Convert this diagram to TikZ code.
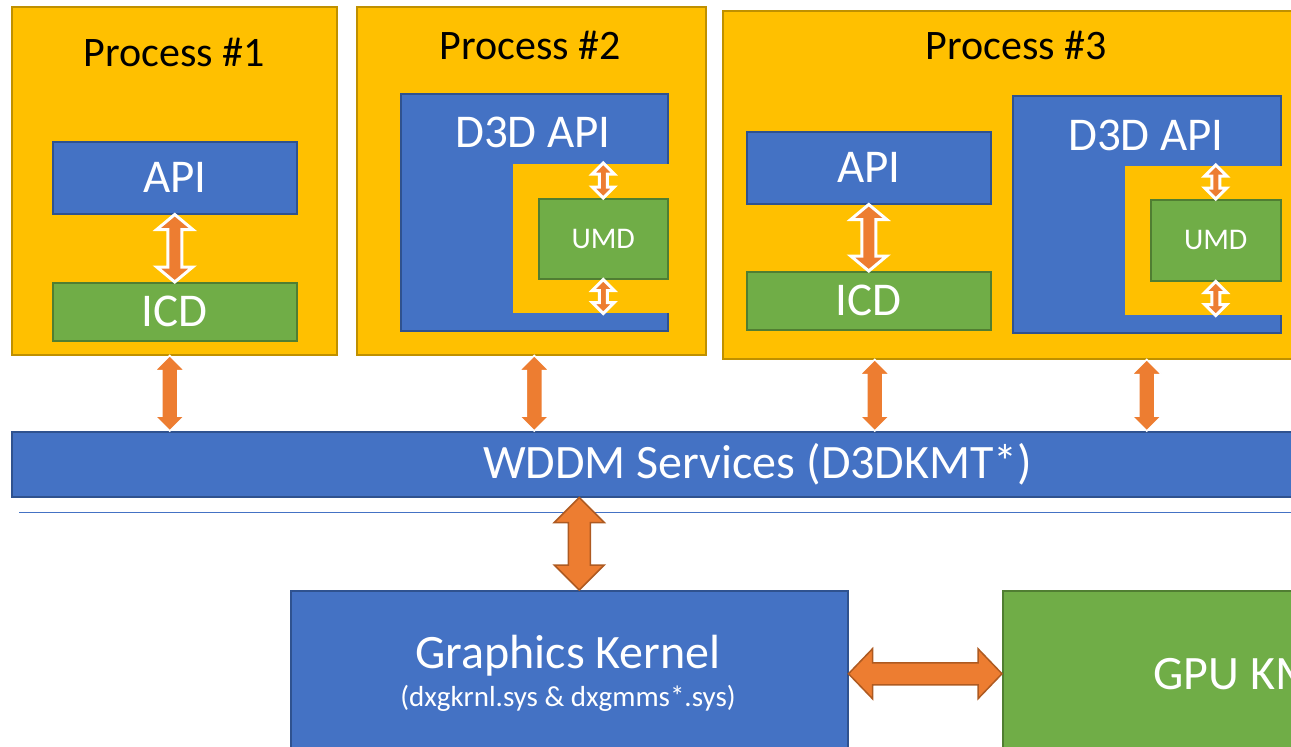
\documentclass[tikz,border=0pt]{standalone}
\usepackage{fontspec}
\setmainfont{Carlito}
\usetikzlibrary{calc}

\definecolor{procfill}{HTML}{FFC000}
\definecolor{procline}{HTML}{BF9000}
\definecolor{apifill}{HTML}{4472C4}
\definecolor{apiline}{HTML}{2F528F}
\definecolor{drvfill}{HTML}{70AD47}
\definecolor{drvline}{HTML}{507E32}
\definecolor{arrfill}{HTML}{ED7D31}
\definecolor{arrline}{HTML}{AE5A21}

\newcommand\hugetext{\fontsize{47}{52}\selectfont}
\newcommand\bartext{\fontsize{48}{52}\selectfont}
\newcommand\titletext{\fontsize{42}{46}\selectfont}
\newcommand\umdtext{\fontsize{30}{33}\selectfont}
\newcommand\subtext{\fontsize{29}{32}\selectfont}

\begin{document}
\begin{tikzpicture}[x=1pt,y=-1pt,
box/.style 2 args={anchor=north west,inner sep=0pt,minimum width=#1pt,minimum height=#2pt,line width=1.5pt},
proc/.style={draw=procline,fill=procfill},
apibox/.style={draw=apiline,fill=apifill,text=white,font=\hugetext},
drvbox/.style={draw=drvline,fill=drvfill,text=white,font=\hugetext},
notch/.style={fill=procfill},
ttl/.style={anchor=base,inner sep=0pt,font=\titletext},
vdbl/.style n args={3}{to path={let \p1=(\tikztostart),\p2=(\tikztotarget) in
  (\x1,\y1) -- ({\x1+#1pt},{\y1-#3pt}) -- ({\x1+#2pt},{\y1-#3pt}) -- ({\x1+#2pt},{\y2+#3pt})
  -- ({\x1+#1pt},{\y2+#3pt}) -- (\x1,\y2) -- ({\x1-#1pt},{\y2+#3pt}) -- ({\x1-#2pt},{\y2+#3pt})
  -- ({\x1-#2pt},{\y1-#3pt}) -- ({\x1-#1pt},{\y1-#3pt}) -- cycle}},
hdbl/.style n args={3}{to path={let \p1=(\tikztostart),\p2=(\tikztotarget) in
  (\x1,\y1) -- ({\x1+#3pt},{\y1+#1pt}) -- ({\x1+#3pt},{\y1+#2pt}) -- ({\x2-#3pt},{\y1+#2pt})
  -- ({\x2-#3pt},{\y1+#1pt}) -- (\x2,\y1) -- ({\x2-#3pt},{\y1-#1pt}) -- ({\x2-#3pt},{\y1-#2pt})
  -- ({\x1+#3pt},{\y1-#2pt}) -- ({\x1+#3pt},{\y1-#1pt}) -- cycle}},
inarr/.style={draw=white,line width=3pt,fill=arrfill},
umdarr/.style={draw=white,line width=3pt,fill=arrfill},
linkarr/.style={draw=white,line width=1.5pt,fill=arrfill},
bigarr/.style={draw=arrline,line width=1.5pt,fill=arrfill}]
\useasboundingbox (0,0) rectangle (1291,747);
\clip (0,0) rectangle (1291,747);

\node[proc,box={325}{348}] (proc1) at (11,6) {};
\node[proc,box={349}{348}] (proc2) at (356,6) {};
\node[proc,box={620}{348}] (proc3) at (722,10) {};
\node[ttl] (t1) at (174,66) {Process \#1};
\node[ttl] (t2) at (530,59) {Process \#2};
\node[ttl] (t3) at (1016,59) {Process \#3};

\node[apibox,box={244}{72}] (api1) at (52,141) {API};
\node[drvbox,box={244}{58}] (icd1) at (52,282) {ICD};

\node[apibox,box={267}{237}] (d3d2) at (400,93) {};
\node[notch,box={156}{149}] (notch2) at (512,163) {};
\node[drvbox,box={129}{80},font=\umdtext] (umd2) at (538,198) {UMD};
\node[anchor=base,inner sep=0pt,text=white,font=\hugetext] (d3dt2) at (533,147) {D3D API};

\node[apibox,box={244}{72}] (api3) at (746,131) {API};
\node[drvbox,box={244}{58}] (icd3) at (746,271) {ICD};

\node[apibox,box={268}{237}] (d3d3) at (1012,95) {};
\node[notch,box={157}{149}] (notch3) at (1124,165) {};
\node[drvbox,box={130}{81},font=\umdtext] (umd3) at (1150,199) {UMD};
\node[anchor=base,inner sep=0pt,text=white,font=\hugetext] (d3dt3) at (1146,150) {D3D API};

\node[apibox,box={1492}{65},font=\bartext] (wddm) at (11,431) {WDDM Services (D3DKMT*)};
\draw[apifill,line width=1pt] (19,512) -- (1300,512);

\node[apibox,box={557}{166}] (kernel) at (290,590) {};
\node[anchor=base,inner sep=0pt,text=white,font=\bartext] (ktitle) at (568,668) {Graphics Kernel};
\node[anchor=base,inner sep=0pt,text=white,font=\subtext] (ksub) at (568,706) {(dxgkrnl.sys \& dxgmms*.sys)};
\node[drvbox,box={494}{166},font=\bartext] (gpukmd) at (1002,590) {GPU KMD};

\draw[vdbl={18}{7}{15},inarr] (api1.south) to (icd1.north);
\draw[vdbl={18}{7}{15},inarr] (api3.south) to (icd3.north);
\draw[vdbl={11}{4}{11},umdarr] (umd2.north |- notch2.north) to (umd2.north);
\draw[vdbl={11}{4}{11},umdarr] (umd2.south) to (umd2.south |- notch2.south);
\draw[vdbl={11}{4}{11},umdarr] (umd3.north |- notch3.north) to (umd3.north);
\draw[vdbl={11}{4}{11},umdarr] (umd3.south) to (umd3.south |- notch3.south);

\draw[vdbl={15}{8}{15},linkarr] ([xshift=-5pt]api1.south |- proc1.south) to ([xshift=-5pt]api1.south |- wddm.north);
\draw[vdbl={15}{8}{15},linkarr] (d3d2.south |- proc2.south) to (d3d2.south |- wddm.north);
\draw[vdbl={15}{8}{15},linkarr] ([xshift=6pt]icd3.south |- proc3.south) to ([xshift=6pt]icd3.south |- wddm.north);
\draw[vdbl={15}{8}{15},linkarr] (d3d3.south |- proc3.south) to (d3d3.south |- wddm.north);

\coordinate (kin) at ([xshift=10pt]kernel.north);
\draw[vdbl={25}{11}{25},bigarr] (kin |- wddm.south) to (kin);
\draw[hdbl={25}{11}{24},bigarr] (kernel.east) to (gpukmd.west);
\end{tikzpicture}
\end{document}
